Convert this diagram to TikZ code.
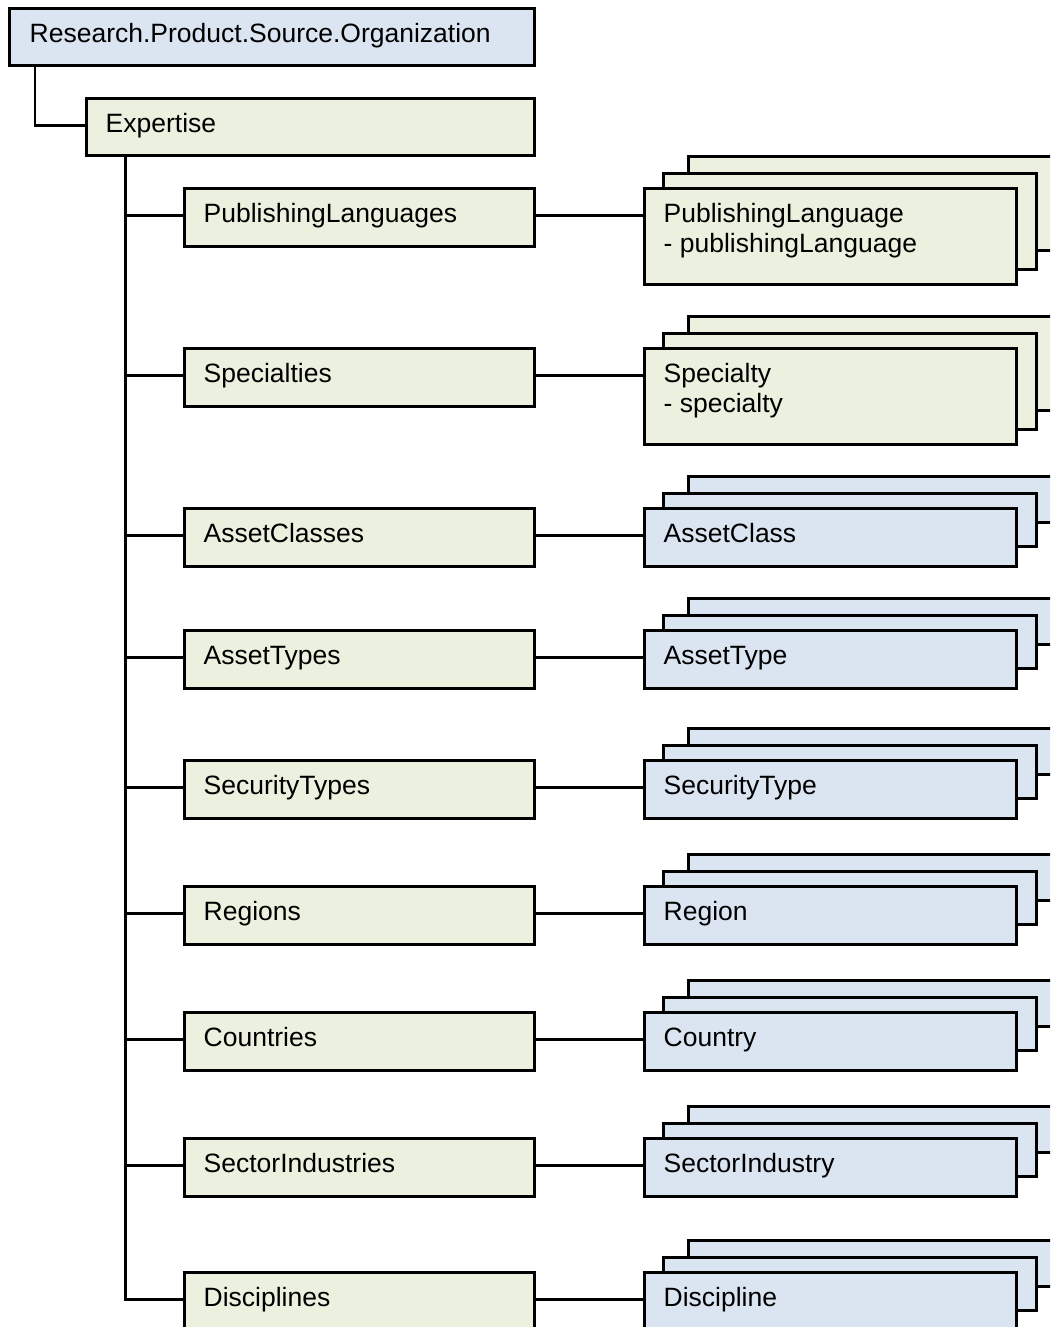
\documentclass[tikz,border=0pt]{standalone}
\usepackage{fontspec}
\setmainfont{Liberation Sans}
\definecolor{gfill}{RGB}{235,241,222}
\definecolor{bfill}{RGB}{219,229,241}
\tikzset{
  box/.style={draw=black, line width=2.7pt, rectangle, inner sep=0pt, anchor=north west},
  lbl/.style={inner sep=0pt, anchor=base west, align=left, font=\fontsize{26.5}{30}\selectfont},
  conn/.style={draw=black, line width=2.7pt}
}
\begin{document}
\begin{tikzpicture}[x=1pt,y=-1pt]
\useasboundingbox (0,0) rectangle (1050,1327);
\clip (0,0) rectangle (1050,1327);
\fill[white] (0,0) rectangle (1050,1327);
% root and Expertise
\node[box, fill=bfill, minimum width=525, minimum height=57] (root) at (8,7) {};
\node[lbl] (troot) at (29.5,42.5) {Research.Product.Source.Organization};
\node[box, fill=gfill, minimum width=448, minimum height=57] (exp) at (85,97) {};
\node[lbl] (texp) at (105.5,132.5) {Expertise};
\draw[conn] ([xshift=27pt]root.south west) |- ([yshift=1.5pt]exp.west);
\coordinate (tr) at ([xshift=40.5pt]exp.south west);
\foreach \n/\T/\ct/\rt/\col/\h/\mb/\bb/\tb in {
  1/187/PublishingLanguages/{PublishingLanguage\\- publishingLanguage}/gfill/96/81/62/65.5,
  2/347/Specialties/{Specialty\\- specialty}/gfill/96/81/62/65.5,
  3/507/AssetClasses/AssetClass/bfill/58/38/14/35.5,
  4/629/AssetTypes/AssetType/bfill/58/38/14/35.5,
  5/759/SecurityTypes/SecurityType/bfill/58/38/14/35.5,
  6/885/Regions/Region/bfill/58/38/14/35.5,
  7/1011/Countries/Country/bfill/58/38/14/35.5,
  8/1137/SectorIndustries/SectorIndustry/bfill/58/38/14/35.5,
  9/1271/Disciplines/Discipline/bfill/58/38/14/35.5}
{
  \node[box, fill=\col, minimum width=400, minimum height={\bb+32}] (b\n) at (687,{\T-32}) {};
  \node[box, fill=\col, minimum width=373, minimum height={\mb+15}] (m\n) at (662,{\T-15}) {};
  \node[box, fill=\col, minimum width=372, minimum height=\h] (f\n) at (643,\T) {};
  \node[lbl] (tf\n) at (663.5,{\T+\tb}) {\rt};
  \node[box, fill=gfill, minimum width=350, minimum height=58] (c\n) at (183,\T) {};
  \node[lbl] (tc\n) at (203.5,{\T+35.5}) {\ct};
  \draw[conn] ([yshift=2pt]c\n.east) -- ([yshift=2pt]c\n.east -| f\n.west);
}
\foreach \n in {1,...,8}{
  \draw[conn] ([yshift=2pt]c\n.west) -- ([yshift=2pt]c\n.west -| tr);
}
\coordinate (tb) at ([yshift=2pt]c9.west);
\draw[conn] (tr) |- (tb);
\end{tikzpicture}
\end{document}
